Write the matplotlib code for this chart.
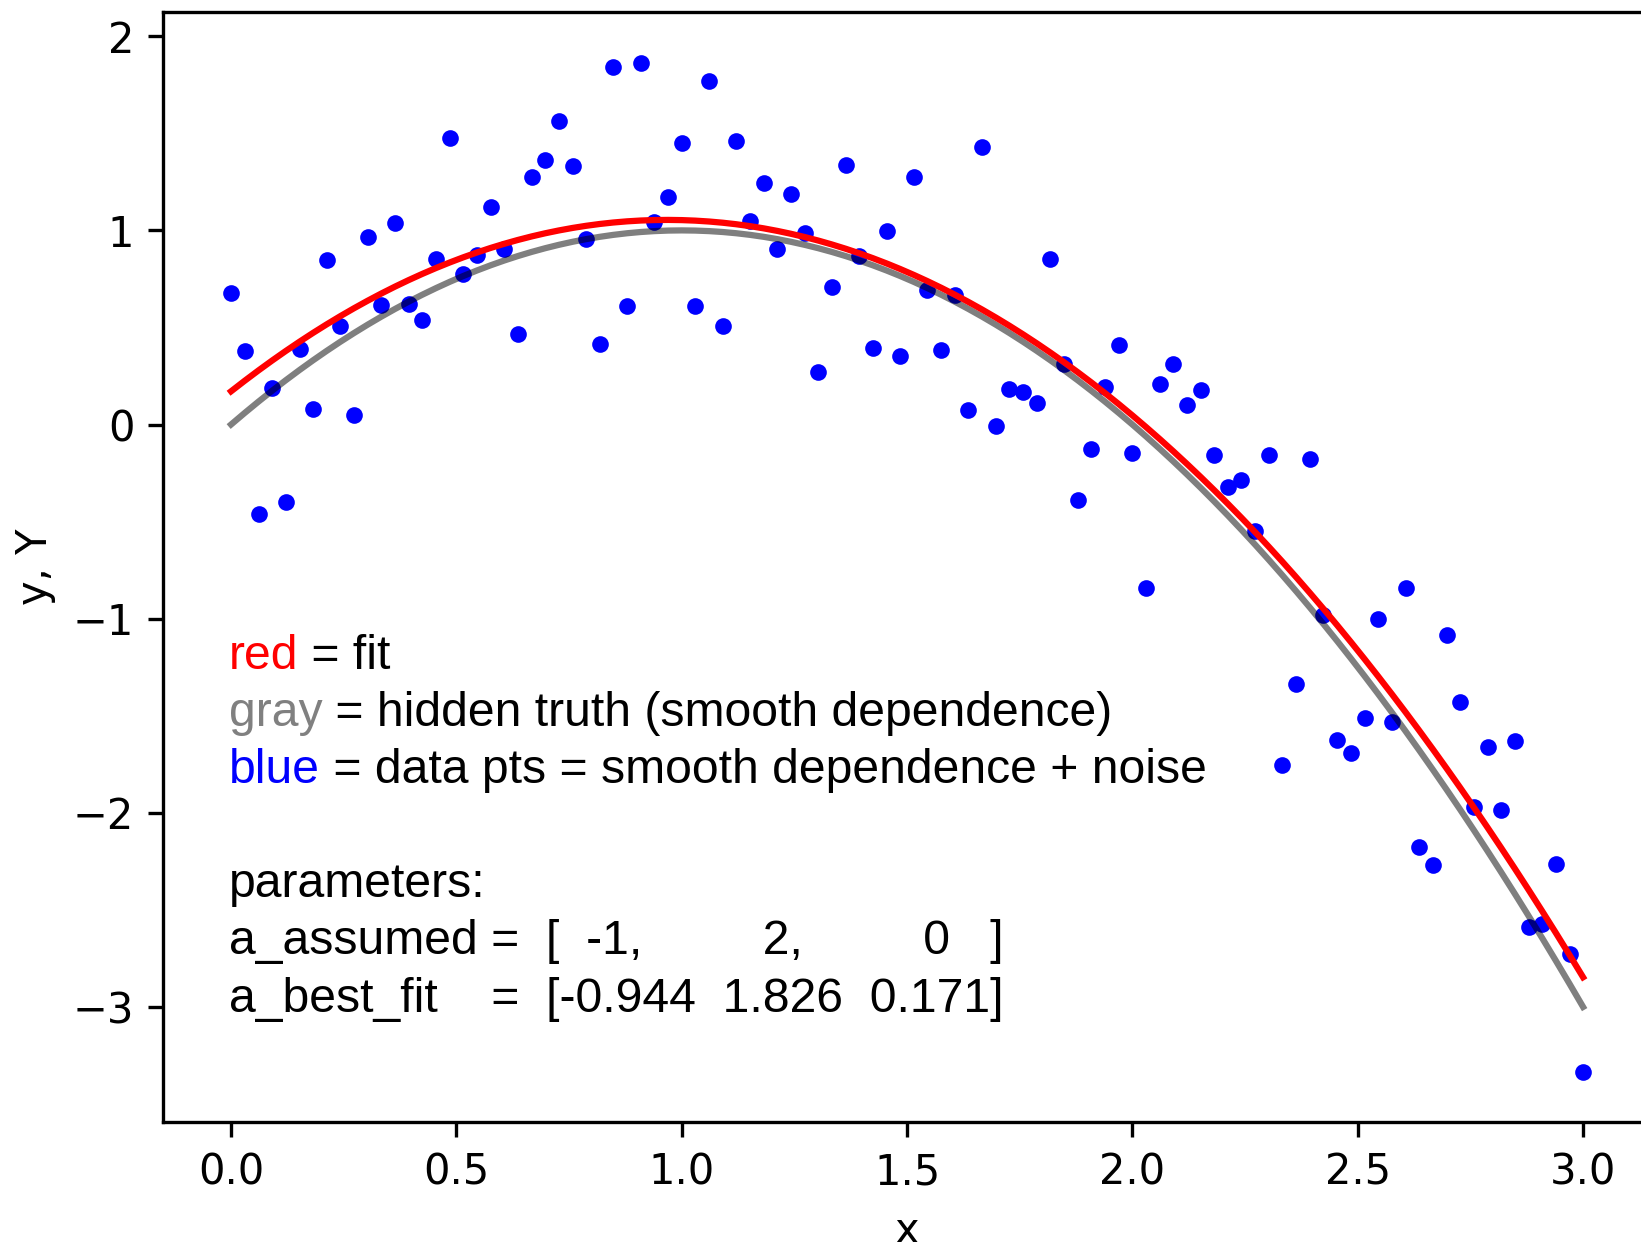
import numpy as np
import matplotlib.pyplot as plt

# data points (x, Y)
x = [0.0, 0.030, 0.061, 0.091, 0.121, 0.152, 0.182, 0.212, 0.242, 0.273,
     0.303, 0.333, 0.364, 0.394, 0.424, 0.455, 0.485, 0.515, 0.545, 0.576,
     0.606, 0.636, 0.667, 0.697, 0.727, 0.758, 0.788, 0.818, 0.848, 0.879,
     0.909, 0.939, 0.970, 1.0, 1.030, 1.061, 1.091, 1.121, 1.152, 1.182,
     1.212, 1.242, 1.273, 1.303, 1.333, 1.364, 1.394, 1.424, 1.455, 1.485,
     1.515, 1.545, 1.576, 1.606, 1.636, 1.667, 1.697, 1.727, 1.758, 1.788,
     1.818, 1.848, 1.879, 1.909, 1.939, 1.970, 2.0, 2.030, 2.061, 2.091,
     2.121, 2.152, 2.182, 2.212, 2.242, 2.273, 2.303, 2.333, 2.364, 2.394,
     2.424, 2.455, 2.485, 2.515, 2.545, 2.576, 2.606, 2.636, 2.667, 2.697,
     2.727, 2.758, 2.788, 2.818, 2.848, 2.879, 2.909, 2.939, 2.970, 3.0]
Y = [0.675, 0.377, -0.462, 0.19, -0.40, 0.39, 0.078, 0.85, 0.51, 0.05,
     0.965, 0.615, 1.037, 0.62, 0.536, 0.853, 1.477, 0.774, 0.873, 1.12,
     0.903, 0.464, 1.273, 1.362, 1.565, 1.33, 0.956, 0.414, 1.843, 0.608,
     1.863, 1.043, 1.17, 1.45, 0.608, 1.77, 0.508, 1.462, 1.047, 1.246,
     0.904, 1.19, 0.987, 0.272, 0.706, 1.335, 0.867, 0.394, 0.999, 0.354,
     1.275, 0.692, 0.382, 0.668, 0.073, 1.427, -0.006, 0.183, 0.167, 0.11,
     0.855, 0.31, -0.39, -0.126, 0.194, 0.409, -0.147, -0.843, 0.21, 0.31,
     0.10, 0.177, -0.158, -0.32, -0.286, -0.55, -0.158, -1.754, -1.338, -0.176,
     -0.98, -1.623, -1.694, -1.511, -1.0, -1.533, -0.84, -2.176, -2.27, -1.085,
     -1.427, -1.97, -1.659, -1.987, -1.632, -2.59, -2.573, -2.264, -2.725, -3.333]

# polynomial coefficients (highest power first)
a_assumed = [-1, 2, 0]
a_best_fit = [-0.944, 1.826, 0.171]

# annotation lines: list of (text, colour) pieces per line, with baselines
notes = [
    [('red', 'red'), (' = fit', 'black')],
    [('gray', 'gray'), (' = hidden truth (smooth dependence)', 'black')],
    [('blue', 'blue'), (' = data pts = smooth dependence + noise', 'black')],
    [('parameters:', 'black')],
    [('a_assumed =  [  -1,         2,         0   ]', 'black')],
    [('a_best_fit    =  [-0.944  1.826  0.171]', 'black')],
]
note_y = [-1.259, -1.551, -1.844, -2.436, -2.729, -3.026]

fig = plt.figure(figsize=(1641 / 300, 1242 / 300), dpi=300)
ax = fig.add_axes([0.0996, 0.0966, 0.9063, 0.8934])

xs = np.array(x)
ax.plot(x, Y, 'o', color='blue', ms=4, mew=0, zorder=2)
ax.plot(x, np.polyval(a_assumed, xs), color='black', alpha=0.5, lw=1.5, zorder=3)
ax.plot(x, np.polyval(a_best_fit, xs), color='red', lw=1.5, zorder=4)

fs = 11.55
for yy, parts in zip(note_y, notes):
    t = ax.text(-0.005, yy, parts[0][0], color=parts[0][1], fontsize=fs,
                family='Liberation Sans', va='baseline')
    for s, c in parts[1:]:
        t = ax.annotate(s, xy=(1, 0), xycoords=t, color=c, fontsize=fs,
                        family='Liberation Sans', va='bottom', ha='left')

ax.set_xlabel('x')
ax.set_ylabel('y, Y')

fig.savefig('out.png', dpi=300)
